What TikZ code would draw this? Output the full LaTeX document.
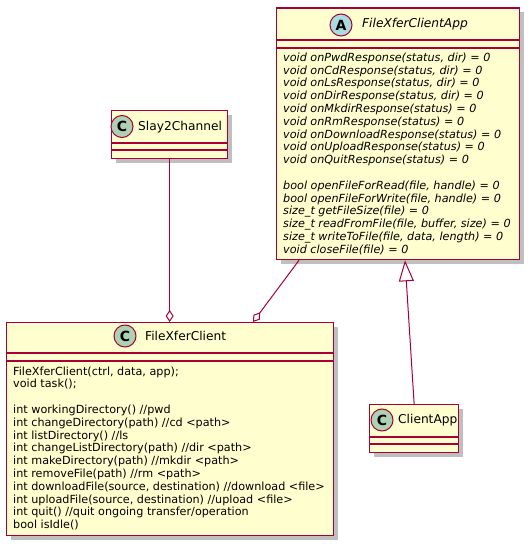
\documentclass[tikz,border=0pt]{standalone}
\usepackage{fontspec}
\setmainfont{DejaVu Sans}
\usetikzlibrary{arrows.meta,shadows,calc}
\definecolor{umlred}{HTML}{A80036}
\definecolor{umlfill}{HTML}{FEFECE}
\definecolor{umlc}{HTML}{ADD1B2}
\definecolor{umla}{HTML}{A9DCDF}
\tikzset{
 classbox/.style={draw=umlred, fill=umlfill, line width=1.3pt, inner sep=0pt, anchor=north west,
   drop shadow={shadow xshift=4pt, shadow yshift=-4pt, opacity=0.25, fill=black}},
 sepline/.style={draw=umlred, line width=1.2pt},
 badge/.style={circle, draw=umlred, line width=1pt, minimum size=22pt, inner sep=0pt,
   font=\fontsize{14}{14}\selectfont\bfseries},
 title/.style={anchor=west, inner sep=0pt, font=\fontsize{12.2}{14}\selectfont},
 member/.style={anchor=west, inner sep=0pt, text height=8.5pt, text depth=2.5pt,
   font=\fontsize{11.2}{12.8}\selectfont},
 link/.style={draw=umlred, line width=1pt},
 aggr/.style={-{Diamond[length=12pt,width=8pt,fill=white,line width=1pt]}},
 inherit/.style={-{Triangle[length=21pt,width=15pt,fill=white,line width=1pt]}},
}
\begin{document}
\begin{tikzpicture}[x=1pt,y=-1pt]
\useasboundingbox (0,0) rectangle (529,545);
\fill[white] (0,0) rectangle (529,545);

% boxes
\node[classbox, minimum width=243pt, minimum height=251.5pt] (app) at (276,7.5) {};
\node[classbox, minimum width=116pt, minimum height=48pt] (slay) at (111,110) {};
\node[classbox, minimum width=327pt, minimum height=213pt] (client) at (6,322) {};
\node[classbox, minimum width=89pt, minimum height=48pt] (clientapp) at (369,404) {};

% compartment separators
\draw[sepline] ($(app.north west)+(0,32.5)$) -- ($(app.north east)+(0,32.5)$);
\draw[sepline] ($(app.north west)+(0,40.5)$) -- ($(app.north east)+(0,40.5)$);
\draw[sepline] ($(slay.north west)+(0,33)$) -- ($(slay.north east)+(0,33)$);
\draw[sepline] ($(slay.north west)+(0,40)$) -- ($(slay.north east)+(0,40)$);
\draw[sepline] ($(client.north west)+(0,31)$) -- ($(client.north east)+(0,31)$);
\draw[sepline] ($(client.north west)+(0,39)$) -- ($(client.north east)+(0,39)$);
\draw[sepline] ($(clientapp.north west)+(0,33)$) -- ($(clientapp.north east)+(0,33)$);
\draw[sepline] ($(clientapp.north west)+(0,40)$) -- ($(clientapp.north east)+(0,40)$);

% badges and titles
\node[badge, fill=umla] (appbadge) at (341,25) {A};
\node[title, font=\fontsize{12.2}{14}\selectfont\itshape] (apptitle) at (362,24) {FileXferClientApp};
\node[badge, fill=umlc] (slaybadge) at (122,126.5) {C};
\node[title] (slaytitle) at (138,127) {Slay2Channel};
\node[badge, fill=umlc] (clientbadge) at (125,336) {C};
\node[title] (clienttitle) at (145,336) {FileXferClient};
\node[badge, fill=umlc] (clientappbadge) at (382,420) {C};
\node[title] (clientapptitle) at (398,420) {ClientApp};

% FileXferClientApp members
\foreach \t [count=\i] in {
  {void onPwdResponse(status, dir) = 0},
  {void onCdResponse(status, dir) = 0},
  {void onLsResponse(status, dir) = 0},
  {void onDirResponse(status, dir) = 0},
  {void onMkdirResponse(status) = 0},
  {void onRmResponse(status) = 0},
  {void onDownloadResponse(status) = 0},
  {void onUploadResponse(status) = 0},
  {void onQuitResponse(status) = 0}}
  \node[member, font=\fontsize{11.2}{12.8}\selectfont\itshape] (appa\i) at (283,{58.3+12.8*(\i-1)}) {\t};
\foreach \t [count=\i] in {
  {bool openFileForRead(file, handle) = 0},
  {bool openFileForWrite(file, handle) = 0},
  {size\_t getFileSize(file) = 0},
  {size\_t readFromFile(file, buffer, size) = 0},
  {size\_t writeToFile(file, data, length) = 0},
  {void closeFile(file) = 0}}
  \node[member, font=\fontsize{11.2}{12.8}\selectfont\itshape] (appb\i) at (283,{186.3+12.8*(\i-1)}) {\t};

% FileXferClient members
\foreach \t [count=\i] in {
  {FileXferClient(ctrl, data, app);},
  {void task();}}
  \node[member] (cla\i) at (13,{372+12.8*(\i-1)}) {\t};
\foreach \t [count=\i] in {
  {int workingDirectory() //pwd},
  {int changeDirectory(path) //cd <path>},
  {int listDirectory() //ls},
  {int changeListDirectory(path) //dir <path>},
  {int makeDirectory(path) //mkdir <path>},
  {int removeFile(path) //rm <path>},
  {int downloadFile(source, destination) //download <file>},
  {int uploadFile(source, destination) //upload <file>},
  {int quit() //quit ongoing transfer/operation},
  {bool isIdle()}}
  \node[member] (clb\i) at (13,{410.4+12.8*(\i-1)}) {\t};

% connectors
\draw[link,aggr] (slay.south) -- (slay.south |- client.north);
\draw[link,aggr] ($(app.south west)+(23,0)$) -- ($(client.north west)+(247,0)$);
\draw[link,inherit] (clientapp.north) -- ($(app.south west)+(129,0)$);
\end{tikzpicture}
\end{document}
